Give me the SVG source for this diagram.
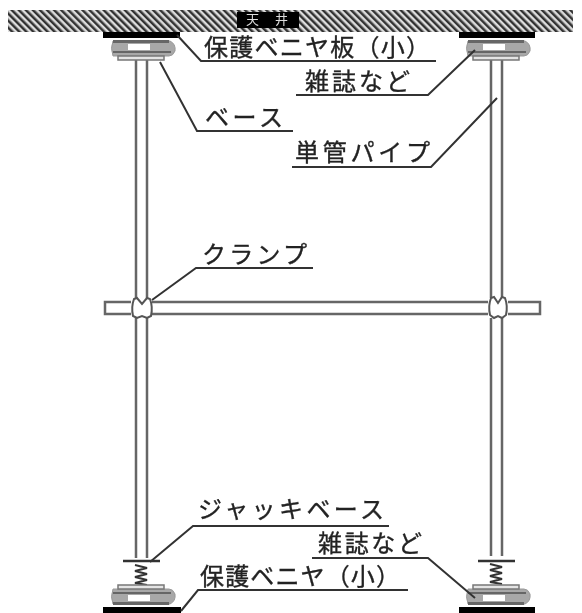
<svg xmlns="http://www.w3.org/2000/svg" width="582" height="613" viewBox="0 0 582 613">
<style>
.t{font-family:"Noto Sans CJK JP","Liberation Sans",sans-serif;fill:#222;stroke:#222;stroke-width:.35;font-size:24px}
.l{fill:none;stroke:#333;stroke-width:2}
.h{fill:none;stroke:#333;stroke-width:2.500}
.p{fill:none;stroke:#666;stroke-width:2.500}
.s{fill:none;stroke:#333;stroke-width:2}
.c{fill:#fff;stroke:#555;stroke-width:2}
</style>
<defs>
<filter id="soft" x="0" y="0" width="100%" height="100%"><feGaussianBlur stdDeviation="0.5"/></filter>
<pattern id="hatch" width="5" height="5" patternUnits="userSpaceOnUse" patternTransform="rotate(-45)">
<rect width="5" height="5" fill="#ddd"/>
<rect width="2.500" height="5" fill="#333"/>
</pattern>
<g id="baseTop">
<path d="M-30 3H27Q33 6 32 13Q30 18 26 18H-30Q-33 10 -30 3Z" fill="#a8a8a8" stroke="#999" stroke-width="1"/>
<rect x="-30" y="2" width="56" height="3" fill="#666"/>
<rect x="-30" y="13" width="58" height="2" fill="#666"/>
<rect x="-15" y="6" width="22" height="6" fill="#fff"/>
<rect x="-25" y="18" width="46" height="4" fill="#e4e4e4" stroke="#777" stroke-width="1.500"/>
</g>
<path id="coil" d="M135 565L147 568L135 571L147 574L135 577L147 580L135 583L147 585" class="s"/>
</defs>
<rect width="582" height="613" fill="#fff"/>
<g filter="url(#soft)">
<g id="ceiling">
<rect x="8" y="10" width="565" height="22" fill="url(#hatch)"/>
<rect x="237" y="12" width="62" height="16" fill="#000"/>
<text x="246" y="24" fill="#ddd" style="font-family:'Noto Sans CJK JP',sans-serif;font-size:13px" textLength="42">天 井</text>
</g>
<g id="pipes">
<path class="p" d="M136 60V298M136 318V558M147 60V298M147 318V558M491 60V298M491 318V556M502 60V298M502 318V556"/>
<path class="p" d="M131 302H105V314H131M152 302H488M152 314H488M508 302H540V314H508"/>
</g>
<g id="clamp-left"><path class="c" d="M134 299L137 298L142 304L147 298L150 299Q153 307 151 316L147 318L142 316L137 318L133 316Q131 307 134 299Z"/></g>
<g id="clamp-right"><path class="c" d="M491 298L494 297L498 303L502 297L505 298Q508 306 506 315L502 318L498 316L494 318L490 315Q488 306 491 298Z"/></g>
<g id="base-top-left">
<use href="#baseTop" transform="translate(143,38)"/>
<rect x="103" y="32" width="77" height="6" fill="#000"/>
</g>
<g id="base-top-right">
<use href="#baseTop" transform="translate(498,38)"/>
<rect x="459" y="32" width="76" height="6" fill="#000"/>
</g>
<g id="base-bottom-left">
<path class="h" d="M123 561H160"/>
<use href="#coil"/>
<use href="#baseTop" transform="translate(143,607) scale(1,-1)"/>
<rect x="103" y="607" width="78" height="6" fill="#000"/>
</g>
<g id="base-bottom-right">
<path class="h" d="M478 561H515"/>
<use href="#coil" transform="translate(355,-1)"/>
<use href="#baseTop" transform="translate(498,607) scale(1,-1)"/>
<rect x="459" y="607" width="76" height="6" fill="#000"/>
</g>
<g id="connectors">
<path class="l" d="M177 35L201 61H436"/>
<path class="l" d="M475 50L428 95H296"/>
<path class="l" d="M160 62L197 131H293"/>
<path class="l" d="M497 98L431 167H292"/>
<path class="l" d="M152 300L196 268H313"/>
<path class="l" d="M150 562L193 526H389"/>
<path class="l" d="M181 611L198 590H408"/>
<path class="l" d="M475 598L428 558H312"/>
</g>
<g id="labels">
<text class="t" x="204" y="56" textLength="226">保護ベニヤ板（小）</text>
<text class="t" x="305" y="90" textLength="105">雑誌など</text>
<text class="t" x="205" y="126" textLength="78">ベース</text>
<text class="t" x="295" y="161" textLength="135">単管パイプ</text>
<text class="t" x="202" y="263" textLength="105">クランプ</text>
<text class="t" x="198" y="518" textLength="186">ジャッキベース</text>
<text class="t" x="318" y="552" textLength="104">雑誌など</text>
<text class="t" x="200" y="585" textLength="200">保護ベニヤ（小）</text>
</g>
</g>
</svg>
